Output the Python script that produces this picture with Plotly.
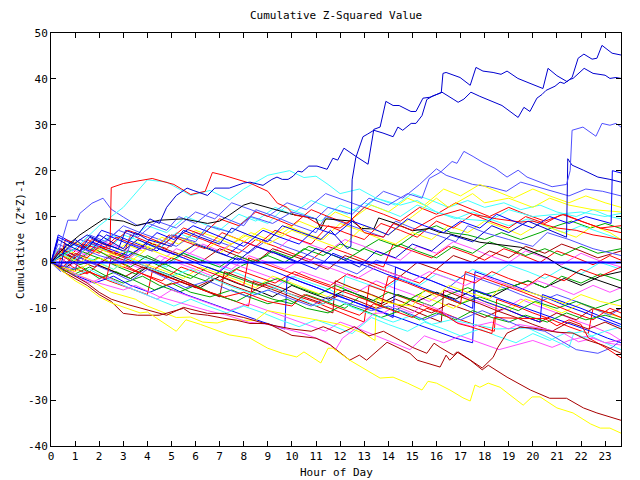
import plotly.graph_objects as go

HOUR_TICKS = list(range(24))
Y_TICKS = list(range(-40, 51, 10))
X_MAX = 23.66

# ---- series: (hour, cumulative value) ----
DB_A = [(0,0),(0.4,-1),(0.6,4),(1.2,2.5),(1.6,5.5),(2.2,4),(2.8,3),(3.1,7),(3.6,6),(4.1,9.5),(4.5,8.5),(4.8,12),(5.2,14.6),(5.65,16.2),(5.9,15.7),(6.5,14.6),(6.8,16.2),(7.4,16.2),(8.0,17.3),(8.26,17.5),(8.8,16.8),(9.17,18.1),(9.38,18.6),(9.6,18.1),(9.84,18.1),(10.05,18.8),(10.25,19.9),(10.42,19.7),(10.7,21),(11.04,21),(11.46,20.3),(11.7,22.7),(11.9,22.3),(12.16,24.9),(12.66,23.1),(13.16,21.4),(13.4,29),(13.66,29.5),(13.9,35.1),(14.2,34.2),(14.45,34.2),(14.94,32.9),(15.15,32.9),(15.44,35.8),(15.73,36),(16.23,37.1),(16.69,35.6),(16.9,34.9),(17.14,35.6),(17.43,37.1),(17.8,36.2),(18.35,35.1),(18.72,34.2),(19.39,31.6),(19.63,33.8),(19.88,32.9),(20.17,35.8),(20.38,36.6),(20.55,37.5),(20.92,38.4),(21.13,39.3),(21.3,39),(21.54,39.9),(21.67,40.1),(22.13,42.3),(22.5,41.2),(23.0,40.8),(23.2,40.1),(23.45,40.3),(23.66,40.1)]
DB_B = [(0,0),(0.5,2),(1,5),(1.5,3),(2,6),(2.5,4.5),(3,3),(3.5,6.5),(4,5),(5,3.5),(5.5,7),(6.2,5.5),(7,4),(7.5,7.5),(8.2,6),(9,4.5),(9.6,8),(10.4,6.5),(11.2,5),(11.6,7),(12.3,3),(12.45,3.5),(12.5,18),(12.65,22.8),(12.95,27.4),(13.15,28),(13.4,28.8),(13.78,28.2),(14.2,27.4),(14.4,29.5),(14.6,28.8),(14.95,30.3),(15.15,30.3),(15.4,32),(15.6,35.5),(15.82,36.2),(16.1,36.8),(16.2,37),(16.27,41.2),(16.4,41.4),(16.98,40.3),(17.4,38.6),(17.64,42.5),(17.93,41.7),(18.35,41.4),(18.68,41),(18.93,41.7),(19.38,40.1),(19.8,39.2),(20.42,37.9),(20.63,42.3),(21.0,40.7),(21.42,39.4),(21.63,40.3),(21.88,44.5),(22.12,45.4),(22.46,44.3),(22.66,44.5),(22.87,47.3),(23.29,45.6),(23.66,45.2)]
LB_30 = [(0,0),(1,-1.5),(1.3,3),(2,1.5),(3,0),(3.3,4),(4.2,2.5),(5,6),(6,4.5),(6.5,8),(7.5,6.5),(8.3,10),(9.2,8.5),(10,11),(11,9.5),(11.5,12),(12.5,10.5),(13.2,14),(14,12.5),(14.8,15),(15.4,14),(15.7,18.3),(16.15,19.6),(16.65,22),(16.85,21.6),(17.14,24.2),(17.52,23.1),(17.93,21.8),(18.43,20.5),(18.93,18.6),(19.39,20.1),(19.76,18.6),(20.3,17.5),(20.8,16.5),(21.4,17),(21.55,20),(21.63,28.8),(22.08,29.5),(22.62,27.5),(22.87,30.3),(23.2,29.9),(23.45,30.3),(23.66,29.5)]
B_20 = [(0,0),(0.3,5),(0.8,3.5),(1.5,6),(2.3,4),(3,2.5),(3.6,5),(4.5,3),(5.3,1.5),(6,4),(7,2),(7.8,0.5),(8.5,3.5),(9.3,2),(10.2,0),(11,3),(12,1),(12.8,-1),(13.5,2.5),(14.3,1),(15,4),(15.8,2.5),(16.6,6),(17.5,4.5),(18.3,8),(19,6.5),(19.8,9),(20.5,7.5),(21.4,5.5),(21.45,22.6),(21.63,21.2),(22.1,20.1),(22.7,18.6),(23.2,18.1),(23.66,17.5)]
B_END = [(0,0),(0.3,5.5),(0.9,4),(1.6,2.5),(2.3,6),(3,4.5),(3.7,3),(4.4,6.5),(5.1,5),(5.9,8),(6.6,6.5),(7.3,5),(8,3.5),(8.8,7),(9.5,5.5),(10.3,4),(11,7.5),(11.8,6),(12.5,9),(13.3,7.5),(14,6),(14.8,9.5),(15.5,8),(16.3,6.5),(17,9),(17.8,7.5),(18.5,10.5),(19.2,9),(20,7.5),(20.7,10),(21.5,8.5),(22.2,10),(22.9,9),(23.25,8.5),(23.3,20),(23.66,19.5)]
R_16 = [(0,0),(0.5,-1),(1.0,2),(1.5,1),(2.0,3.5),(2.45,3),(2.5,16.3),(3.0,17.2),(4.2,18.3),(5.1,17),(5.8,14.8),(6.4,15.5),(6.7,19.6),(7.1,19.1),(8.3,17.2),(9,15.5),(9.4,12.9),(9.8,12),(10.1,10.3),(10.6,9.9),(11.2,8.1),(12,7.5),(12.5,9.5),(13,6.5),(13.8,5.5),(14.2,8.5),(15,7),(16,10),(17,11.5),(17.5,10.5),(18.5,9.5),(19.5,8.8),(20,9),(21,7.5),(21.8,7),(22.5,6),(23.66,5)]
C_20 = [(0,0),(1,3),(2,8),(3,12),(4,18),(4.8,17.5),(5.8,14.6),(6.6,15.7),(7.4,13.6),(8,16),(9,19),(9.9,20),(10.5,18.5),(11,18.8),(11.5,17),(12,15),(12.8,16),(13.5,14),(14.5,12.5),(15.2,13.5),(16,11),(17,9.5),(18.2,9),(19,11.5),(20,10),(21,10.5),(22,11),(23,10),(23.66,10.7)]
C_6 = [(0,0),(0.4,2),(1,0.5),(1.6,4),(2.3,2.5),(3,6),(3.8,4.5),(4.5,3),(5.2,6.5),(6,5),(6.7,8),(7.5,6.5),(8.2,10),(9,8.5),(9.7,12),(10.5,10.5),(11.2,9),(12,12.5),(12.8,11),(13.5,14),(14.3,12.5),(15,15),(15.8,13.5),(16.5,12),(17.3,13.5),(18,12),(18.8,13),(19.5,11.5),(20.3,12.5),(21,11),(21.8,10),(22.5,11.5),(23.2,10),(23.66,9.5)]
Y_14 = [(0,0),(1,-2),(2,1),(3,-1),(4,3),(5,1),(6,4),(7,2),(8,6),(9,4),(10,7),(11,5),(12,3),(13,8),(14,6),(15,10),(16,14),(16.5,12),(17.5,15),(18,13),(19,14),(20,12),(20.7,14),(21.5,12.5),(22.5,11.5),(23.66,11)]
Y_6 = [(0,0),(0.5,1.5),(1.2,0),(2,3),(2.7,1.5),(3.5,4.5),(4.2,3),(5,6),(5.8,4.5),(6.5,3),(7.3,6),(8,4.5),(8.8,7.5),(9.5,6),(10.3,9),(11,7.5),(11.8,11),(12.5,9.5),(13.3,12.5),(14,11),(14.8,14),(15.5,12.5),(16.3,16),(17,14.5),(17.8,17),(18.5,15.5),(19.2,14),(20,16),(20.7,14.5),(21.5,13),(22.2,14.5),(23,13),(23.66,12)]
K_1 = [(0,0),(0.5,3),(1.2,6),(1.9,8.5),(2.2,9.5),(3,9),(3.5,8),(4.5,9.2),(5.5,9.5),(6.5,8.5),(7.0,9),(7.4,10.3),(8,12.5),(8.3,13),(9,12),(10,10.5),(11,9.5),(11.2,7.3),(11.4,9.5),(12.5,9),(12.9,7.4),(13.4,7.3),(13.6,9.7),(14.3,8.5),(15,6.9),(15.7,7.4),(16.1,6.6),(16.5,6.3),(17.8,4.4),(19.5,3.3),(20.6,1),(21.2,-1),(21.9,-2.4),(22.5,-3.5),(23.1,-4.6),(23.66,-5.6)]
LB_PK = [(0,0),(0.3,2),(0.7,9.2),(1.08,9.2),(1.2,10.7),(1.7,12.9),(2.16,14),(2.5,11.6),(3.0,9.9),(3.6,8),(4.0,8.6),(4.8,7),(5.3,10),(6,8.5),(6.6,11),(7.3,9.5),(8,8),(8.5,11.5),(9.3,10),(10.2,8),(11,6.5),(11.4,10),(12.2,8.5),(13,7),(13.8,5.5),(14.3,9),(15,7.5),(16,6),(16.8,4.5),(17.3,8),(18,6.5),(19,5),(20,3.5),(20.6,6.5),(21.5,5),(22.5,3),(23.66,1.5)]
DR_34 = [(0,0),(0.5,-1.5),(1,-3),(1.5,-4.5),(2,-6.5),(2.5,-8),(3.2,-9.2),(4.1,-10.4),(4.8,-11.5),(5.5,-9.8),(6.5,-11.1),(7.2,-11.1),(8,-12),(9,-13.5),(10,-14.5),(10.8,-15),(11.3,-14),(12,-15.5),(12.6,-14),(13.2,-16),(13.8,-15),(14.5,-17),(15,-18.5),(15.6,-19.8),(15.9,-17.6),(16.15,-18.5),(16.7,-20.2),(16.85,-19.5),(17.4,-21.3),(17.9,-23.4),(18.15,-22.4),(18.93,-25),(19.9,-27.8),(20.7,-29.6),(21.4,-29.6),(22.1,-31.7),(22.66,-32.8),(23.66,-34.4)]
DR_20 = [(0,0),(0.5,-2),(1,-3.5),(1.5,-5),(2,-7),(2.5,-8.5),(3,-11.1),(3.6,-11.5),(4.5,-11.5),(5.5,-10),(5.8,-11.1),(6.5,-11.5),(7.1,-12.1),(7.7,-12.6),(8.26,-13.3),(9,-13.3),(10,-15.9),(11,-16.5),(11.6,-18),(12.4,-21.3),(12.8,-20.2),(13.1,-21.3),(13.95,-17.4),(14.5,-18.7),(14.9,-19.8),(15.2,-21.3),(16.15,-22.8),(16.4,-20.2),(16.55,-21.3),(16.9,-19.5),(17.4,-21.3),(17.9,-23),(18.35,-20.7),(18.55,-18.5),(18.93,-15.4),(19.47,-14.1),(20,-14.3),(21,-15.2),(21.67,-15.4),(22.25,-16.9),(22.9,-18),(23.66,-19.8)]
Y_37 = [(0,0),(0.5,-2),(1,-4),(1.5,-5.5),(2,-7.5),(2.5,-8.8),(3.0,-9.7),(3.7,-11),(4.0,-10.8),(4.5,-12.6),(5.2,-15),(5.6,-12.5),(6.2,-13.5),(7.4,-15.8),(8.26,-16.5),(9,-18.7),(9.6,-19.8),(10.2,-20.6),(10.5,-19.5),(11.2,-21.9),(11.5,-18.7),(11.7,-18.7),(12.4,-21.3),(12.95,-23),(13.66,-25.2),(14.2,-25),(14.8,-26.3),(15.4,-27.8),(15.65,-25.9),(16.0,-26.3),(16.56,-27.8),(17.1,-29.5),(17.4,-30.2),(17.6,-26.7),(17.8,-27.2),(18.15,-26.3),(18.64,-27.2),(19.6,-31.1),(19.97,-29.3),(20.3,-29.3),(21.0,-31.7),(21.67,-32.8),(22.4,-35.2),(22.8,-36.1),(23.2,-36.1),(23.66,-37.2)]
Y_2 = [(0,0),(0.5,-1.5),(1.5,-3.5),(2.5,-6.5),(3.5,-8),(4,-9.5),(5.2,-12),(5.8,-11.9),(6.3,-13),(6.9,-13.2),(7.4,-12.4),(7.85,-12.6),(8.5,-12.6),(9,-10.5),(10,-11.5),(11,-12.5),(12,-13.5),(12.5,-14.5),(13,-15.5),(13.45,-17),(13.5,-8),(14.2,-9),(15,-9.5),(15.5,-6),(16,-7.5),(16.5,-5),(17.3,-6.5),(18.2,-8),(18.8,-4.5),(19.5,-6),(20.5,-7.5),(21.3,-9),(22,-7),(22.8,-8.5),(23.66,-9.5)]
M_1 = [(0,0),(0.5,-1),(1.2,-3),(2,-4.5),(3,-6),(3.5,-5),(4.5,-7.5),(5.5,-9),(6.5,-10.5),(7.3,-11.5),(8.2,-13),(9.0,-13.5),(9.6,-14.3),(10.5,-15.5),(11.5,-17.5),(11.8,-19.1),(12.1,-16.5),(12.4,-15.4),(13,-13),(13.4,-11.1),(13.8,-11),(14.3,-9.5),(15,-11),(15.5,-9),(16.2,-10.5),(16.8,-13),(17.5,-14),(18.3,-13),(19,-14.5),(19.4,-13.5),(20.5,-14.5),(21.3,-15.5),(21.9,-17.3),(22.5,-16.5),(23,-17.5),(23.66,-16.9)]
R_21 = [(0,0),(0.3,2),(0.9,0),(1.5,-2),(2.3,-3.5),(2.5,1),(3.2,-1),(4,-3),(4.8,-5),(5.5,-4),(6.3,-6),(7.2,-7.5),(8,-6.5),(9,-8.5),(10,-9.5),(10.5,-7),(11.3,-8.5),(12,-10),(12.8,-11.5),(13.4,-9),(14.2,-10.5),(15,-12),(15.6,-10),(16.2,-11),(16.9,-13.3),(17.4,-14),(18.3,-15.5),(18.4,-12),(19.5,-12.2),(20.5,-12.2),(21,-13.8),(21.5,-12.5),(22,-13.5),(22.3,-16.4),(23,-18.5),(23.66,-20.8)]
LB_17 = [(0,0),(0.4,-2),(1,1.5),(1.6,0),(2.5,-2),(3.3,-4),(4,-1.5),(4.8,-3.5),(5.6,-5.5),(6.5,-4),(7.4,-6),(8.2,-7.5),(9,-6),(10,-8),(10.8,-9.5),(11.5,-7.5),(12.4,-9),(13.3,-10.5),(14,-9.5),(14.8,-11),(15.5,-12.5),(16.2,-11),(17,-12.5),(17.9,-10.5),(18.6,-12),(19.5,-14),(20.5,-15),(21.3,-17.5),(21.8,-19),(22.7,-19.8),(23.3,-18.5),(23.66,-16.9)]
C_19 = [(0,0),(0.5,-1.5),(1,2),(1.8,0.5),(2.6,-1.5),(3.2,1),(4,-1),(5,-3),(5.8,-1.5),(6.7,-3.5),(7.6,-5.5),(8.5,-7),(9.3,-5.5),(10.2,-7.5),(11,-9.5),(11.8,-8),(12.6,-10),(13.4,-11.5),(14.2,-13),(15,-11.5),(15.8,-13.5),(16.6,-12.5),(17.5,-13.5),(18.5,-14.5),(19.8,-14.3),(20.6,-16.2),(21.3,-18),(21.5,-18.6),(21.7,-15.4),(22.1,-15),(22.6,-16.5),(23.2,-18),(23.66,-19)]
G_1 = [(0,0),(0.5,1.5),(1.2,-0.5),(2,1),(2.8,-1),(3.5,-2.5),(4.2,0),(5,-2),(5.8,-3.5),(6.5,-1),(7.3,-2.5),(8,-0.5),(9,1.5),(9.7,0),(10.5,3),(11.3,1.5),(12,4),(12.8,2.5),(13.6,5),(14.4,3.5),(15.2,6.5),(16,8),(16.6,6.5),(17.3,6),(18,5),(18.7,6.5),(19.5,5),(20.3,6.5),(21,8),(21.6,9),(22.4,7.5),(23,8.5),(23.66,7.4)]
G_2 = [(0,0),(0.4,-1),(1,-2.5),(1.6,-1),(2.3,-3),(3,-4.5),(3.8,-3),(4.5,-5),(5.3,-6.5),(6,-5),(6.8,-7),(7.7,-8.5),(8.4,-6.5),(9.2,-8),(10,-9),(10.6,-7),(11.4,-8.5),(12.2,-10),(12.8,-7.5),(13.5,-9),(14.3,-10.5),(15,-8),(15.8,-9.5),(16.5,-7),(17.3,-5.5),(18,-7),(19,-5.5),(19.8,-4),(20.5,-5.5),(21.2,-3),(22,-4.5),(22.8,-2.5),(23.66,-4)]
G_3 = [(0,0),(0.5,2),(1.1,0.5),(1.8,3),(2.5,1),(3.3,-1),(4,1.5),(4.8,-0.5),(5.6,-2.5),(6.4,-4),(7,-2),(7.8,-3.5),(8.6,-5),(9.4,-3.5),(10.3,-5.5),(11.1,-7),(11.8,-5),(12.5,-6.5),(13.3,-8.5),(14,-6.5),(14.9,-8),(15.6,-6),(16.3,-7.5),(17,-9),(17.8,-7.5),(18.6,-9),(19.4,-10.5),(20.1,-8.5),(21,-10),(21.8,-8.5),(22.6,-10),(23.66,-8)]
G_4 = [(0,0),(0.6,-2),(1.3,-1),(2,-3.5),(2.7,-2),(3.5,-4),(4.3,-6),(5,-4.5),(5.8,-6.5),(6.6,-7.5),(7.5,-6),(8.2,-7.5),(9,-9),(9.8,-8),(10.6,-10),(11.5,-11),(12.2,-9),(13,-10.5),(13.7,-12),(14.5,-10.5),(15.3,-12.5),(16,-11),(16.8,-12.5),(17.5,-10.5),(18.3,-12),(19,-13),(19.7,-11.5),(20.6,-13),(21.4,-11),(22.2,-12.5),(23,-11.5),(23.66,-12.5)]
G_5 = [(0,0),(0.4,1.5),(1,3),(1.7,1.5),(2.5,0),(3.2,2.5),(4,1),(4.7,-0.5),(5.5,2),(6.2,0.5),(7,-1),(7.7,1.5),(8.5,0),(9.2,2.5),(10,1),(10.7,3.5),(11.5,2),(12.2,0.5),(13,3),(13.7,1.5),(14.5,4),(15.2,2.5),(16,1),(16.7,3.5),(17.5,2),(18.2,4.5),(19,3),(19.7,1.5),(20.5,3),(21.2,1.5),(22,3.5),(22.7,2),(23.66,3)]
R_2 = [(0,0),(0.3,3),(0.8,1.5),(1.5,5),(2.2,3),(3,1.5),(3.3,6),(4,4.5),(4.8,3),(5.5,6.5),(6.3,5),(7,3.5),(7.8,2),(8.5,5),(9.3,3.5),(10,2),(10.8,0.5),(11.5,3.5),(12.3,2),(13,0.5),(13.8,-1),(14.2,4),(15,2.5),(15.8,1),(16.5,3.5),(17.3,2),(18,0.5),(18.8,3),(19.6,1.5),(20.3,0),(21,2.5),(21.8,1),(22.5,-0.5),(23.2,1.5),(23.66,0.5)]
R_3 = [(0,0),(0.5,-1.5),(1,-3),(1.6,-2),(2.4,-4),(3.2,-5.5),(4,-7),(4.2,-2),(5,-3.5),(5.8,-5),(6.6,-6.5),(7.4,-8),(8.2,-9.5),(8.4,-4),(9.2,-5.5),(10,-7),(10.9,-8.5),(11.6,-10),(12.3,-11.5),(13,-13),(13.2,-5),(14,-6.5),(14.8,-8),(15.5,-9.5),(16.3,-11),(17,-12.5),(17.8,-14),(18.4,-15),(18.5,-8),(19.3,-9.5),(20,-11),(20.8,-12.5),(21.5,-14),(22.3,-15.5),(22.5,-10),(23.2,-11),(23.66,-12)]
R_4 = [(0,0),(0.4,1),(0.9,-1),(1.5,-2.5),(2.2,0.5),(3,-1),(3.8,-2.5),(4.6,-4),(5.4,-1),(6.2,-2.5),(7,-4),(7.7,-1.5),(8.5,-3),(9.3,-4.5),(10.1,-2),(10.8,-3.5),(11.6,-5),(12.3,-2.5),(13.1,-4),(13.8,-5.5),(14.5,-3),(15.3,-4.5),(16,-1.5),(16.8,-3),(17.6,-4.5),(18.3,-2),(19,-3.5),(19.8,-5),(20.5,-2.5),(21.3,-4),(22,-1.5),(22.8,-3),(23.66,-1)]
R_5 = [(0,0),(0.5,-1),(1,-2),(1.3,4),(2,3),(2.8,1.5),(3.5,0),(4.3,-1.5),(5,1),(5.8,-0.5),(6.5,-2),(7.3,-3.5),(8,-5),(8.2,1),(9,-0.5),(9.8,-2),(10.6,-3.5),(11.4,-5),(12.2,-6.5),(13,-8),(13.7,-9.5),(14,-3),(14.8,-4.5),(15.5,-6),(16.3,-7.5),(17,-9),(17.2,-2),(18,-3.5),(18.8,-5),(19.6,-6.5),(20.3,-8),(21,-9.5),(21.7,-11),(22.5,-12.5),(23.2,-10),(23.66,-11)]
R_6 = [(0,0),(0.3,-1),(0.6,5),(1.3,3.5),(2,2),(2.7,5.5),(3.4,4),(4.2,2.5),(4.9,6),(5.6,4.5),(6.4,3),(7.1,6.5),(7.8,5),(8.5,3.5),(9.3,7),(10,5.5),(10.8,4),(11.5,8),(12.2,6.5),(13,5),(13.7,8.5),(14.5,7),(15.2,5.5),(16,9),(16.7,7.5),(17.5,10.5),(18.2,9),(19,7.5),(19.7,10),(20.5,8.5),(21.2,10.5),(22,9),(22.8,7.5),(23.66,8)]
R_7 = [(0,0),(0.4,3),(1,1.5),(1.7,5),(2.4,3.5),(3.2,7),(4,5.5),(4.7,4),(5.5,7.5),(6.3,6),(7,9.5),(7.8,8),(8.5,11),(9.3,9.5),(10,8),(10.8,11.5),(11.5,10),(12.3,8.5),(13,12),(13.8,10.5),(14.5,9),(15.3,12),(16,10.5),(16.8,13),(17.5,11.5),(18.2,10),(19,12),(19.7,10.5),(20.5,9),(21.3,10.5),(22,9),(22.8,7.5),(23.66,6.5)]
B_2 = [(0,0),(0.3,6),(0.8,4.5),(1.5,3),(2.1,7),(2.9,5.5),(3.6,4),(4.4,2.5),(5.1,6),(5.8,4.5),(6.6,3),(7.3,1.5),(8,4.5),(8.8,3),(9.6,1.5),(10.3,0),(11,-1.5),(11.7,2),(12.4,0.5),(13.2,-1),(13.9,-2.5),(14.7,-4),(15.4,-5.5),(16.2,-7),(16.9,-8.5),(17.5,-10),(17.6,-2),(18.4,-3.5),(19.2,-5),(19.9,-6.5),(20.7,-8),(21.4,-9.5),(22.2,-11),(22.9,-12.5),(23.66,-14)]
B_3 = [(0,0),(0.5,-1.5),(1.1,-3),(1.8,-4.5),(2.6,-3),(3.3,-5),(4.1,-6.5),(4.8,-5),(5.6,-7),(6.4,-8.5),(7.2,-10),(8,-11.5),(8.8,-13),(9.7,-14.5),(9.8,-3),(10.5,-4.5),(11.3,-6),(12,-7.5),(12.8,-9),(13.6,-10.5),(14.4,-12),(15.2,-13.5),(16,-15),(16.8,-16.5),(17.5,-17.5),(17.6,-6),(18.4,-7.5),(19.2,-9),(20,-10.5),(20.8,-12),(21.6,-13.5),(22.4,-15),(23.1,-16.5),(23.66,-17.5)]
B_4 = [(0,0),(0.4,3),(1,1.5),(1.7,4.5),(2.4,3),(3.2,1.5),(4,4),(4.7,2.5),(5.5,1),(6.2,-0.5),(7,-2),(7.7,1),(8.5,-0.5),(9.3,-2),(10,-3.5),(10.8,-5),(11.5,-6.5),(12.3,-8),(13,-9.5),(13.8,-11),(14.2,-12),(14.3,-1),(15,-2.5),(15.8,-4),(16.5,-5.5),(17.3,-7),(18,-8.5),(18.8,-10),(19.5,-11.5),(20.3,-13),(20.4,-7),(21.2,-8.5),(22,-10),(22.7,-11.5),(23.4,-13),(23.66,-13.5)]
LB_2 = [(0,0),(0.3,4),(0.9,2.5),(1.6,6),(2.3,4.5),(3,8),(3.7,6.5),(4.5,5),(5.2,3.5),(6,6.5),(6.7,5),(7.5,3.5),(8.2,2),(9,5),(9.7,3.5),(10.5,2),(11.2,0.5),(12,-1),(12.7,-2.5),(13.5,0.5),(14.3,-1),(15,-2.5),(15.8,-4),(16.5,-5.5),(17.2,-2.5),(18,-4),(18.8,-5.5),(19.5,-7),(20.3,-8.5),(21,-7),(21.8,-8.5),(22.5,-10),(23.2,-11.5),(23.66,-10)]
LB_3 = [(0,0),(0.5,2),(1.2,5),(2,3.5),(2.8,7),(3.6,5.5),(4.4,9),(5.2,7.5),(6,11),(6.8,9.5),(7.5,13),(8.3,11.5),(9,10),(9.8,13),(10.6,11.5),(11.4,15),(12.2,13.5),(13,12),(13.8,15.5),(14.6,14),(15.3,17),(16,20.4),(16.4,19),(17,18),(17.5,17),(18.2,16.5),(18.9,15.5),(19.5,17.5),(20.2,16.5),(20.8,15.5),(21.5,14.5),(22.2,16),(22.9,15.5),(23.66,14.5)]
M_2 = [(0,0),(0.4,2),(1,0.5),(1.7,3),(2.4,1.5),(3.1,0),(3.8,-1.5),(4.5,1.5),(5.2,0),(6,-1.5),(6.7,-3),(7.4,0),(8.2,-1.5),(9,-3),(9.7,-4.5),(10.4,-2),(11.2,-3.5),(12,-5),(12.7,-6.5),(13.5,-4),(14.2,-5.5),(15,-7),(15.7,-8.5),(16.5,-6),(17.2,-7.5),(18,-9),(18.7,-10.5),(19.5,-8),(20.2,-9.5),(21,-11),(21.7,-12.5),(22.5,-14),(23.2,-15.5),(23.66,-17)]
M_3 = [(0,0),(0.5,-2),(1.2,1),(1.9,-0.5),(2.6,2.5),(3.3,1),(4,4),(4.8,2.5),(5.5,1),(6.3,4),(7,2.5),(7.8,5),(8.5,3.5),(9.2,2),(10,5.5),(10.7,4),(11.5,2.5),(12.2,5),(13,3.5),(13.7,2),(14.5,0.5),(15.2,3.5),(16,2),(16.7,4.5),(17.5,3),(18.2,1.5),(19,0),(19.7,2.5),(20.5,1),(21.2,-0.5),(22,2),(22.7,0.5),(23.66,-1)]
M_4 = [(0,0),(0.5,-1.5),(1,-3),(1.6,-4.5),(2.3,-3),(3,-5),(3.7,-6.5),(4.4,-8),(5,-6),(5.8,-7.5),(6.6,-9),(7.4,-10.5),(8.2,-9),(9,-10.5),(9.8,-12),(10.6,-13.5),(11.4,-15),(12,-13),(12.8,-14.5),(13.5,-16),(14.2,-17.5),(14.9,-19),(15.5,-16),(16.3,-17.5),(17,-16),(17.8,-17.5),(18.6,-19),(19.3,-18),(20,-17),(20.8,-18.5),(21.5,-17),(22.3,-16),(23,-17.5),(23.66,-18)]
M_5 = [(0,0),(0.4,-1),(0.8,3),(1.5,1.5),(2.2,4.5),(3,3),(3.7,1.5),(4.5,0),(5.2,3),(6,1.5),(6.7,0),(7.5,-1.5),(8.2,1.5),(9,0),(9.7,-1.5),(10.5,1),(11.2,-0.5),(12,-2),(12.7,-3.5),(13.5,-1),(14.2,-2.5),(15,-4),(15.7,-2),(16.5,-3.5),(17.2,-5),(18,-3),(18.7,-4.5),(19.5,-6),(20.2,-4),(21,-5.5),(21.7,-7),(22.5,-5),(23.2,-6.5),(23.66,-5.5)]
C_3 = [(0,0),(0.3,3),(1,1.5),(1.8,5),(2.5,3.5),(3.3,2),(4,0.5),(4.8,-1),(5.5,2),(6.3,0.5),(7,-1),(7.8,-2.5),(8.5,-4),(9.3,-5.5),(10,-3),(10.8,-4.5),(11.6,-6),(12.1,-7.5),(12.2,-3),(13,-4.5),(13.8,-6),(14.5,-3.5),(15.3,-5),(16,-2.5),(16.8,-4),(17.5,-1.5),(18.3,-3),(19,-0.5),(19.8,-2),(20.5,-3.5),(21.3,-1),(22,-2.5),(22.8,0),(23.66,-1.5)]
C_4 = [(0,0),(0.4,1.5),(1,4),(1.7,2.5),(2.5,6),(3.2,4.5),(4,8),(4.8,6.5),(5.6,10),(6.3,8.5),(7,7),(7.8,10.5),(8.5,9),(9.3,12),(10,10.5),(10.8,13.5),(11.5,12),(12.3,10.5),(13,13),(13.8,11.5),(14.5,10),(15.2,12.5),(16,11),(16.8,9.5),(17.5,11),(18.2,9.5),(19,8),(19.8,9.5),(20.5,8),(21.3,6.5),(22,8),(22.8,6.5),(23.66,5)]
C_5 = [(0,0),(0.5,-1.5),(1,-3),(1.6,-1.5),(2.3,-3.5),(3,-5),(3.7,-6.5),(4.4,-8),(5.1,-9.5),(5.8,-8),(6.5,-9.5),(7.3,-11),(8,-9.5),(8.8,-11),(9.5,-12.5),(10.3,-14),(11,-12.5),(11.8,-14),(12.5,-15.5),(13.3,-12),(14,-13.5),(14.8,-15),(15.5,-13),(16.3,-14.5),(17,-16),(17.8,-14.5),(18.5,-16),(19.3,-17.5),(20,-15.5),(20.7,-17),(21.5,-15),(22.2,-16.5),(23,-15),(23.66,-14)]
DR_3 = [(0,0),(0.5,-1),(1,1.5),(1.7,0),(2.4,-1.5),(3.1,-3),(3.8,-1),(4.6,-2.5),(5.3,-4),(6,-5.5),(6.8,-3.5),(7.5,-5),(8.3,-6.5),(9,-4.5),(9.8,-6),(10.5,-7.5),(11.3,-9),(12,-7),(12.8,-8.5),(13.5,-10),(14.3,-8),(15,-9.5),(15.8,-11),(16.5,-9),(17.3,-10.5),(18,-12),(18.8,-10),(19.5,-11.5),(20.3,-13),(21,-11),(21.8,-12.5),(22.5,-10),(23.2,-11),(23.66,-10)]
DR_4 = [(0,0),(0.3,2.5),(1,1),(1.7,4),(2.4,2.5),(3.2,1),(4,4.5),(4.7,3),(5.5,1.5),(6.2,0),(7,3),(7.7,1.5),(8.5,0),(9.2,3),(10,1.5),(10.8,0),(11.5,-1.5),(12.2,1.5),(13,0),(13.7,-1.5),(14.5,-3),(15.2,0),(16,-1.5),(16.7,1.5),(17.5,0),(18.2,2.5),(19,1),(19.7,3.5),(20.5,2),(21.2,4),(22,2.5),(22.7,1),(23.66,2.5)]
DR_5 = [(0,0),(0.5,2),(1.1,0.5),(1.8,-1),(2.5,1.5),(3.3,0),(4,-1.5),(4.8,-3),(5.5,-4.5),(6.3,-6),(7,-7.5),(7.2,-2),(8,-3.5),(8.7,-5),(9.5,-6.5),(10.2,-8),(11,-9.5),(11.7,-11),(11.8,-4),(12.5,-5.5),(13.3,-7),(14,-8.5),(14.8,-10),(15.5,-11.5),(16.2,-13),(16.3,-6),(17,-7.5),(17.8,-9),(18.5,-10.5),(19.3,-12),(20,-13.5),(20.8,-15),(21.5,-13),(22.3,-14.5),(23,-13),(23.66,-14.5)]
Y_4 = [(0,0),(0.5,3),(1.2,1.5),(1.9,0),(2.6,-1.5),(3.3,1),(4,-0.5),(4.8,-2),(5.5,-3.5),(6.2,-1),(7,-2.5),(7.8,-4),(8.5,-5.5),(9.2,-3),(10,-4.5),(10.7,-6),(11.5,-7.5),(12.2,-5),(13,-6.5),(13.7,-8),(14.5,-9.5),(15.2,-7),(16,-8.5),(16.7,-10),(17.5,-7.5),(18.2,-9),(19,-10.5),(19.7,-8),(20.5,-9.5),(21.2,-11),(22,-9),(22.7,-10.5),(23.66,-12)]
Y_5 = [(0,0),(0.4,2),(1,4.5),(1.7,3),(2.4,1.5),(3.1,4),(3.8,2.5),(4.6,5.5),(5.3,4),(6,7),(6.8,5.5),(7.5,4),(8.3,6.5),(9,5),(9.8,8),(10.5,6.5),(11.3,5),(12,8.5),(12.8,7),(13.5,5.5),(14.3,4),(15,6.5),(15.8,5),(16.5,8),(17.3,6.5),(18,9),(18.8,7.5),(19.5,6),(20.3,8.5),(21,7),(21.8,5.5),(22.5,8),(23.2,6.5),(23.66,5)]
K_2 = [(0,0),(0.5,-1.5),(1.2,1),(1.9,-0.5),(2.6,-2),(3.3,-3.5),(4,-1),(4.8,-2.5),(5.5,-4),(6.2,-5.5),(7,-3),(7.7,-4.5),(8.5,-6),(9.2,-7.5),(10,-5),(10.7,-6.5),(11.5,-8),(12.2,-6),(13,-7.5),(13.7,-9),(14.4,-7),(15.2,-8.5),(16,-6.5),(16.8,-8),(17.5,-6),(18.3,-7.5),(19,-5.5),(19.8,-4),(20.5,-5.5),(21.3,-3.5),(22,-5),(22.8,-3),(23.66,-2)]
ZERO = [(0,0),(23.66,0)]

# ---- styles (kept apart from the values) ----
PALETTE = {"R": "#ff0000", "G": "#00a800", "B": "#0000ff", "M": "#ff50ff", "C": "#40ffff",
           "DR": "#a80000", "Y": "#ffff00", "K": "#000000", "LB": "#5050ff", "DB": "#0000d0"}

DRAW_ORDER = [
    (R_2, "R"), (G_1, "G"), (B_2, "B"), (M_2, "M"), (C_3, "C"), (DR_3, "DR"), (Y_4, "Y"), (K_2, "K"),
    (LB_2, "LB"), (R_3, "R"), (G_2, "G"), (B_3, "B"), (M_3, "M"), (C_4, "C"), (DR_4, "DR"), (Y_5, "Y"),
    (LB_3, "LB"), (R_4, "R"), (G_3, "G"), (B_4, "B"), (M_4, "M"), (C_5, "C"), (DR_5, "DR"), (Y_2, "Y"),
    (R_5, "R"), (G_4, "G"), (M_5, "M"), (C_19, "C"), (LB_17, "LB"), (R_6, "R"), (G_5, "G"), (M_1, "M"),
    (C_6, "C"), (Y_6, "Y"), (R_7, "R"),
    (R_21, "R"), (LB_PK, "LB"), (K_1, "K"), (Y_14, "Y"), (C_20, "C"), (R_16, "R"), (B_END, "B"),
    (B_20, "DB"), (DR_20, "DR"), (DR_34, "DR"), (Y_37, "Y"), (LB_30, "LB"), (DB_A, "DB"), (DB_B, "DB"),
]

fig = go.Figure()
for pts, col in DRAW_ORDER:
    fig.add_trace(go.Scatter(x=[p[0] for p in pts], y=[p[1] for p in pts], mode="lines",
                             line=dict(color=PALETTE[col], width=1), hoverinfo="skip"))
fig.add_trace(go.Scatter(x=[p[0] for p in ZERO], y=[p[1] for p in ZERO], mode="lines",
                         line=dict(color="#0000ff", width=2), hoverinfo="skip"))

FONT = "DejaVu Sans Mono"
axis_common = dict(showline=True, linecolor="black", linewidth=1, mirror="allticks",
                   ticks="inside", ticklen=5, tickcolor="black", showgrid=False, zeroline=False,
                   tickfont=dict(family=FONT, size=11, color="black"))
fig.update_layout(
    width=640, height=480, showlegend=False,
    margin=dict(l=51, r=19, t=33, b=34),
    paper_bgcolor="white", plot_bgcolor="white",
    xaxis=dict(range=[0, X_MAX], tickvals=HOUR_TICKS, ticktext=[str(h) for h in HOUR_TICKS], **axis_common),
    yaxis=dict(range=[-40, 50], tickvals=Y_TICKS, ticktext=[str(v) for v in Y_TICKS], **axis_common),
    annotations=[
        dict(text="Cumulative Z-Squared Value", x=0.5, xref="paper", y=1, yref="paper", yshift=18,
             yanchor="middle", showarrow=False, font=dict(family=FONT, size=11, color="black")),
        dict(text="Hour of Day", x=0.5, xref="paper", y=0, yref="paper", yshift=-26, showarrow=False,
             yanchor="middle", font=dict(family=FONT, size=11, color="black")),
        dict(text="Cumulative (Z*Z)-1", x=0, xref="paper", xshift=-39, y=0.5, yref="paper",
             showarrow=False, textangle=-90, font=dict(family=FONT, size=11, color="black")),
    ],
)
fig.write_html("out.html")
